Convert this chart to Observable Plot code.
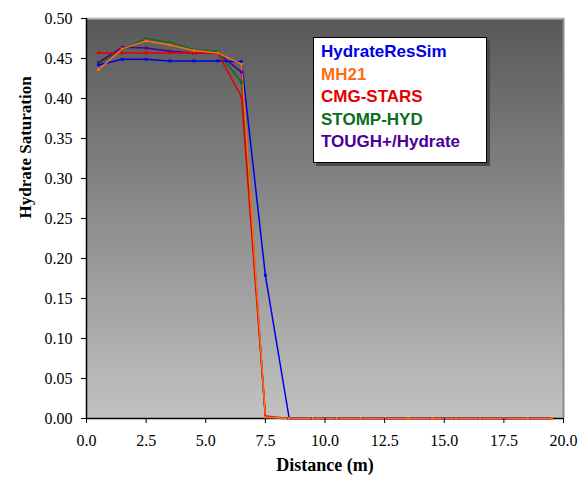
<!DOCTYPE html>
<html>
<head>
<meta charset="utf-8">
<script src="https://cdn.jsdelivr.net/npm/d3@7"></script>
<script src="https://cdn.jsdelivr.net/npm/@observablehq/plot@0.6"></script>
<style>
  html, body { margin: 0; padding: 0; background: #fff; }
  #wrap { position: relative; width: 587px; height: 483px; }
  #legend {
    position: absolute; left: 313px; top: 37px; width: 172px; height: 124px;
    background: #fff; border: 1px solid #000; box-shadow: 3px 3px 0 #4a4a4a;
    font-family: "Liberation Sans", Arial, sans-serif; font-weight: bold; font-size: 17px;
    box-sizing: content-box;
  }
  #legend div { position: absolute; left: 7px; line-height: 18px; white-space: nowrap; }
</style>
</head>
<body>
<div id="wrap"></div>
<script>
const distance = [0.5,1.5,2.5,3.5,4.5,5.5,6.5,7.5,8.5,9.5,10.5,11.5,12.5,13.5,14.5,15.5,16.5,17.5,18.5,19.5];
const seriesNames = ["HydrateResSim","MH21","CMG-STARS","STOMP-HYD","TOUGH+/Hydrate"];
const seriesColors = ["#0000e6","#ff6a13","#e60000","#0b6e23","#4c0099"];
const hydrateResSim = [0.442,0.449,0.449,0.447,0.447,0.447,0.446,0.179,0,0,0,0,0,0,0,0,0,0,0,0];
const mh21          = [0.436,0.462,0.472,0.467,0.460,0.457,0.443,0.002,0,0,0,0,0,0,0,0,0,0,0,0];
const cmgStars      = [0.457,0.457,0.457,0.457,0.457,0.457,0.402,0.003,0,0,0,0,0,0,0,0,0,0,0,0];
const stompHyd      = [0.443,0.461,0.475,0.470,0.461,0.459,0.420,0.001,0,0,0,0,0,0,0,0,0,0,0,0];
const toughHydrate  = [0.445,0.464,0.463,0.459,0.457,0.457,0.433,0.001,0,0,0,0,0,0,0,0,0,0,0,0];
const yTicks = [0,0.05,0.10,0.15,0.20,0.25,0.30,0.35,0.40,0.45,0.50];
const xTicks = [0,2.5,5,7.5,10,12.5,15,17.5,20];

const valuesBySeries = {
  "HydrateResSim": hydrateResSim, "MH21": mh21, "CMG-STARS": cmgStars,
  "STOMP-HYD": stompHyd, "TOUGH+/Hydrate": toughHydrate
};
// drawing order (last on top)
const drawOrder = ["TOUGH+/Hydrate","STOMP-HYD","HydrateResSim","CMG-STARS","MH21"];
const rows = [];
for (const s of drawOrder) valuesBySeries[s].forEach((v, i) => rows.push({series: s, x: distance[i], y: v}));

const serif = "'Liberation Serif', 'Times New Roman', serif";

const defs = () => {
  const g = d3.create("svg:defs");
  const lg = g.append("linearGradient").attr("id", "bg").attr("x1", 0).attr("y1", 0).attr("x2", 0).attr("y2", 1);
  lg.append("stop").attr("offset", "0%").attr("stop-color", "#585858");
  lg.append("stop").attr("offset", "100%").attr("stop-color", "#c2c2c2");
  return g.node();
};

const chart = Plot.plot({
  width: 587, height: 483,
  marginLeft: 86, marginRight: 24, marginTop: 18, marginBottom: 65,
  style: {fontFamily: serif, fontSize: "16px", background: "#fff", color: "#000"},
  x: {domain: [0, 20]},
  y: {domain: [0, 0.5]},
  color: {domain: seriesNames, range: seriesColors},
  marks: [
    defs,
    Plot.frame({fill: "url(#bg)", stroke: null}),
    Plot.ruleY([0.5], {stroke: "#b8b8b8", strokeWidth: 2}),
    Plot.ruleX([20], {stroke: "#8c8c8c", strokeWidth: 2}),
    Plot.ruleX([0], {stroke: "#000", strokeWidth: 1.5}),
    Plot.ruleY([0], {stroke: "#000", strokeWidth: 1.5}),
    Plot.line(rows, {x: "x", y: "y", z: "series", stroke: "series", strokeWidth: 1.5}),
    Plot.dot(rows, {x: "x", y: "y", fill: "series", symbol: "square", r: 1.6, stroke: null}),
    Plot.axisY({ticks: yTicks, tickFormat: d3.format(".2f"), tickSize: 5, tickPadding: 9, label: null, fontSize: 16}),
    Plot.axisX({ticks: xTicks, tickFormat: d3.format(".1f"), tickSize: 5, tickPadding: 11, label: null, fontSize: 16}),
    Plot.text(["Hydrate Saturation"], {frameAnchor: "left", dx: -61, rotate: -90, fontWeight: "bold", fontSize: 17, fill: "#000"}),
    Plot.text(["Distance (m)"], {frameAnchor: "bottom", dy: 52, fontWeight: "bold", fontSize: 18, fill: "#000"})
  ]
});

const wrap = document.getElementById("wrap");
wrap.appendChild(chart);
const legend = document.createElement("div");
legend.id = "legend";
seriesNames.forEach((name, i) => {
  const d = document.createElement("div");
  d.textContent = name;
  d.style.color = seriesColors[i];
  d.style.top = (5 + i * 22.5) + "px";
  legend.appendChild(d);
});
wrap.appendChild(legend);
</script>
</body>
</html>
